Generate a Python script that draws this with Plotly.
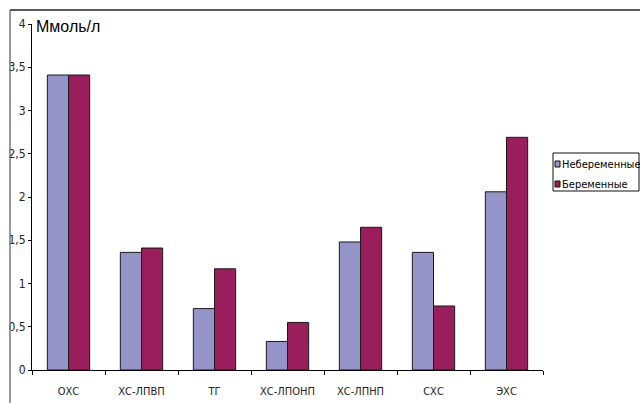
import plotly.graph_objects as go

categories = ["ОХС", "ХС-ЛПВП", "ТГ", "ХС-ЛПОНП", "ХС-ЛПНП", "СХС", "ЭХС"]
series_names = ["Небеременные", "Беременные"]
nonpregnant = [3.41, 1.36, 0.71, 0.33, 1.48, 1.36, 2.06]
pregnant = [3.41, 1.41, 1.17, 0.55, 1.65, 0.74, 2.69]
y_tickvals = [0, 0.5, 1, 1.5, 2, 2.5, 3, 3.5, 4]
y_ticktext = ["0", "0,5", "1", "1,5", "2", "2,5", "3", "3,5", "4"]
unit_label = "Ммоль/л"

colors = ["#9494C8", "#991E5B"]
NARROW = "Liberation Sans Narrow, Arial Narrow, DejaVu Sans Condensed, sans-serif"

W, H = 640, 403
L, R, T, B = 32, 97, 24, 33
pw, ph = W - L - R, H - T - B

def px(x):
    return (x - L) / pw

def py(y):
    return (H - B - y) / ph

fig = go.Figure()
for name, vals, col in zip(series_names, [nonpregnant, pregnant], colors):
    fig.add_trace(go.Bar(
        x=categories, y=vals, name=name,
        marker=dict(color=col, line=dict(color="#1a1a1a", width=1)),
        showlegend=False,
    ))

shapes = [
    # outer frame (top and left)
    dict(type="line", xref="paper", yref="paper", x0=px(10), x1=px(645), y0=py(10), y1=py(10),
         line=dict(color="#222222", width=1.5)),
    dict(type="line", xref="paper", yref="paper", x0=px(10), x1=px(10), y0=py(10), y1=py(410),
         line=dict(color="#777777", width=1.5)),
    # legend box
    dict(type="rect", xref="paper", yref="paper", x0=px(553), x1=px(639), y0=py(153), y1=py(191),
         line=dict(color="#111111", width=1), fillcolor="white"),
]
annotations = [
    dict(text=unit_label, xref="paper", yref="paper", x=px(34), y=py(27), xanchor="left",
         yanchor="middle", showarrow=False, font=dict(family="Liberation Sans, Arial", size=16, color="black")),
]
legend_rows = [164, 184]
for name, col, yy in zip(series_names, colors, legend_rows):
    shapes.append(dict(type="rect", xref="paper", yref="paper", x0=px(555), x1=px(560),
                       y0=py(yy - 3), y1=py(yy + 3), line=dict(color="#111111", width=1), fillcolor=col))
    annotations.append(dict(text=name, xref="paper", yref="paper", x=px(560), y=py(yy),
                            xanchor="left", yanchor="middle", showarrow=False,
                            font=dict(family=NARROW, size=11, color="black")))

fig.update_layout(
    width=W, height=H,
    margin=dict(l=L, r=R, t=T, b=B, pad=0),
    paper_bgcolor="white", plot_bgcolor="white",
    barmode="group", bargap=0.42, bargroupgap=0,
    separators=", ",
    shapes=shapes, annotations=annotations,
    xaxis=dict(showline=True, linecolor="black", linewidth=1, ticks="outside", ticklen=4,
               tickcolor="black", tickson="boundaries", showgrid=False, ticklabelstandoff=11,
               automargin=False,
               tickfont=dict(family=NARROW, size=11, color="#222222")),
    yaxis=dict(range=[0, 4], tickvals=y_tickvals, ticktext=y_ticktext, showline=True,
               linecolor="black", linewidth=1, ticks="outside", ticklen=3, tickcolor="black",
               showgrid=False, zeroline=False, automargin=False,
               tickfont=dict(family=NARROW, size=12, color="#222222")),
)
fig.write_html("out.html")
